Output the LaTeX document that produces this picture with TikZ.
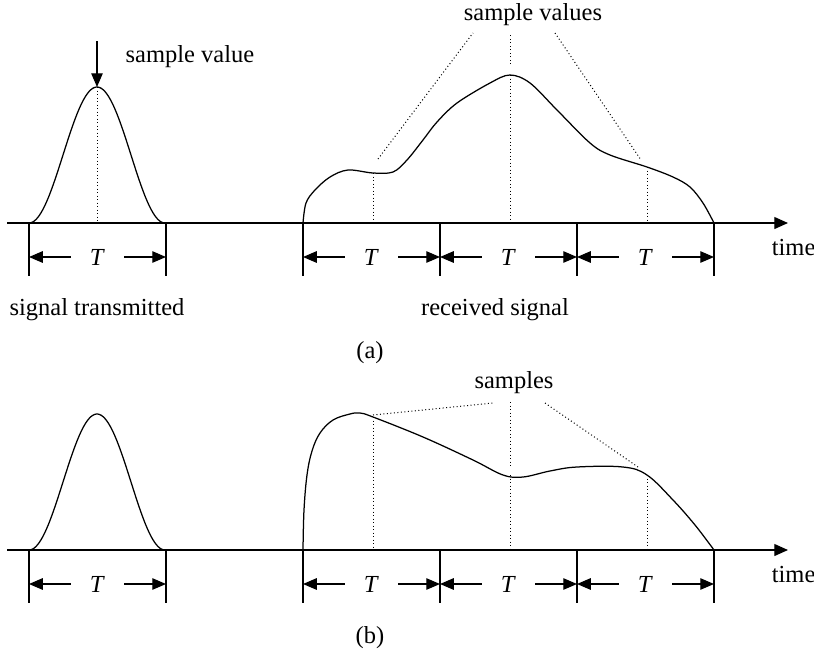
\documentclass[tikz,border=0pt]{standalone}
\usepackage{fontspec}
\setmainfont{Liberation Serif}
\usetikzlibrary{positioning,arrows.meta}

\begin{document}
\begin{tikzpicture}[x=0.4pt,y=-0.4pt,font=\fontsize{9.8}{12}\selectfont,
  signal/.style={line width=0.5pt},
  sampleline/.style={densely dotted,line width=0.4pt},
  tickline/.style={line width=0.5pt},
  dimarrow/.style={-{Triangle[length=5.5pt,width=4.6pt]},line width=0.5pt},
  axisarrow/.style={-{Triangle[length=5.5pt,width=4.8pt]},line width=0.5pt}]
\useasboundingbox (0,0) rectangle (814,654);

% axes, pulses and the T intervals of both panels
\foreach \p/\y in {a/223,b/550} {
  \coordinate (start\p) at (7,\y);
  \coordinate (end\p) at (788,\y);
  \draw[axisarrow] (start\p) -- (end\p);
  \node (time\p) [anchor=west] at (763,\y+25) {time};
  \draw[signal] plot[domain=-68:68,samples=80]
    ({97+\x},{\y-136*(0.5+0.5*cos(\x/68*180))});
  \foreach \x in {29,166,303,440,577,714}
    \draw[tickline] (\x,\y) -- (\x,\y+53);
  \foreach \l/\r [count=\i] in {29/166,303/440,440/577,577/714} {
    \node (T\p\i) [minimum width=21pt,inner sep=0pt] at ({(\l+\r)/2},\y+34) {\textit{T}};
    \coordinate (L\p\i) at (\l,\y+34);
    \coordinate (R\p\i) at (\r,\y+34);
    \draw[dimarrow] (T\p\i) -- (L\p\i);
    \draw[dimarrow] (T\p\i) -- (R\p\i);
  }
}

% panel (a)
\coordinate (peaka) at (97,87);
\coordinate (svtop) at (97,41);
\node (sv) at (190,57) {sample value};
\draw[dimarrow] (svtop) -- (peaka);
\draw[sampleline] (peaka) -- (97,223);
\draw[signal] plot[smooth,tension=0.55] coordinates {(303,223) (306,203) (315,190)
  (330,177) (348,170) (373,173) (393,172) (407,160) (423,140) (437,122) (457,103)
  (490,83) (510,75) (530,83) (557,110) (590,143) (610,155) (647,167) (673,177)
  (690,187) (703,203) (714,223)};
\node (svs) at (533,15) {sample values};
\draw[sampleline] (378,159) -- (473,33);
\draw[sampleline] (510,64) -- (510,34);
\draw[sampleline] (555,33) -- (641,160);
\foreach \x/\h in {373/173,510/75,647/167}
  \draw[sampleline] (\x,\h) -- (\x,223);
\node (tx) at (97,310) {signal transmitted};
\node (rx) at (495,310) {received signal};
\node (capa) at (370,353) {(a)};

% panel (b)
\draw[signal] plot[smooth,tension=0.6] coordinates {(303,550) (304,510) (307,475)
  (312,451) (320,433) (333,420) (350,414) (360,413) (373,417) (423,437) (473,460)
  (503,475) (523,477) (550,471) (577,467) (623,467) (647,475) (673,500) (695,525)
  (714,550)};
\node (smp) at (514,383) {samples};
\draw[sampleline] (373,415) -- (493,403);
\draw[sampleline] (510,402) -- (510,467);
\draw[sampleline] (545,403) -- (638,467);
\foreach \x/\h in {373/417,510/475,647/475}
  \draw[sampleline] (\x,\h) -- (\x,550);
\node (capb) at (370,638) {(b)};
\end{tikzpicture}
\end{document}
